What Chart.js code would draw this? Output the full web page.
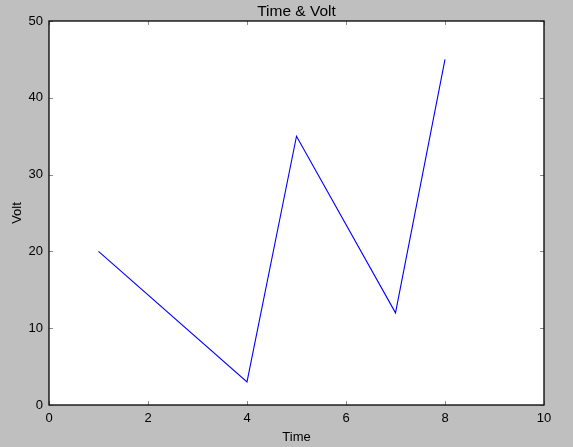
<!DOCTYPE html>
<html>
<head>
<meta charset="utf-8">
<title>Time & Volt</title>
<script src="https://cdn.jsdelivr.net/npm/chart.js@4/dist/chart.umd.min.js"></script>
<style>
  html, body { margin:0; padding:0; background:#bfbfbf; }
  canvas { display:block; }
</style>
</head>
<body>
<canvas id="chart" width="573" height="447"></canvas>
<script>
// datos
const timeValues = [1, 4, 5, 7, 8];
const voltValues = [20, 3, 35, 12, 45];
const xTicks = [0, 2, 4, 6, 8, 10];
const yTicks = [0, 10, 20, 30, 40, 50];

const FONT = "'Liberation Sans', Arial, Helvetica, sans-serif";

// fondo gris, area blanca, marco negro y ticks hacia dentro (estilo matplotlib)
const frame = {
  id: 'frame',
  beforeDraw(chart){
    const {ctx, chartArea:a} = chart;
    ctx.save();
    ctx.fillStyle = '#bfbfbf';
    ctx.fillRect(0, 0, chart.width, chart.height);
    ctx.fillStyle = '#ffffff';
    ctx.fillRect(a.left, a.top, a.right - a.left, a.bottom - a.top);
    ctx.restore();
  },
  afterDraw(chart){
    const {ctx, chartArea:a, scales} = chart;
    const len = 4;
    ctx.save();
    ctx.strokeStyle = '#8c8c8c';
    ctx.lineWidth = 1;
    ctx.beginPath();
    xTicks.forEach(v => {
      const px = Math.round(scales.x.getPixelForValue(v)) + 0.5;
      ctx.moveTo(px, a.bottom); ctx.lineTo(px, a.bottom - len);
      ctx.moveTo(px, a.top);    ctx.lineTo(px, a.top + len);
    });
    yTicks.forEach(v => {
      const py = Math.round(scales.y.getPixelForValue(v)) + 0.5;
      ctx.moveTo(a.left, py);  ctx.lineTo(a.left + len, py);
      ctx.moveTo(a.right, py); ctx.lineTo(a.right - len, py);
    });
    ctx.stroke();
    ctx.strokeStyle = '#000000';
    ctx.lineWidth = 1.3;
    ctx.strokeRect(a.left, a.top, a.right - a.left, a.bottom - a.top);
    ctx.restore();
  }
};

document.addEventListener('DOMContentLoaded', () => {
  const ctx = document.getElementById('chart');
  // eslint-disable-next-line no-undef
  new Chart(ctx, {
    type: 'line',
    data: {
      datasets: [{
        label: 'Volt',
        data: timeValues.map((t, i) => ({ x: t, y: voltValues[i] })),
        borderColor: '#0000ff',
        borderWidth: 1.1,
        pointRadius: 0,
        tension: 0,
        fill: false
      }]
    },
    options: {
      responsive: false,
      animation: false,
      devicePixelRatio: 1,
      layout: { padding: { left: 0, right: 29, top: 0, bottom: 0 } },
      plugins: {
        legend: { display: false },
        tooltip: { enabled: false },
        title: {
          display: true,
          fullSize: false, // centrado sobre el area del grafico
          text: 'Time & Volt',
          color: '#000',
          font: { family: FONT, size: 15.5, weight: 'normal', lineHeight: 1.2 },
          padding: { top: 2, bottom: 0.4 }
        }
      },
      scales: {
        x: {
          type: 'linear',
          min: 0, max: 10,
          afterBuildTicks: s => { s.ticks = xTicks.map(v => ({ value: v })); },
          afterFit: s => { s.height = 42; },
          grid: { display: false, drawTicks: false },
          border: { display: false },
          ticks: { color: '#000', padding: 6, maxRotation: 0, font: { family: FONT, size: 13 } },
          title: {
            display: true, text: 'Time', color: '#000',
            font: { family: FONT, size: 13 },
            padding: { top: 0, bottom: 2 }
          }
        },
        y: {
          type: 'linear',
          min: 0, max: 50,
          afterBuildTicks: s => { s.ticks = yTicks.map(v => ({ value: v })); },
          afterFit: s => { s.width = 49; },
          grid: { display: false, drawTicks: false },
          border: { display: false },
          ticks: { color: '#000', padding: 6, font: { family: FONT, size: 13 } },
          title: {
            display: true, text: 'Volt', color: '#000',
            font: { family: FONT, size: 13 },
            padding: { top: 10, bottom: 0 }
          }
        }
      }
    },
    plugins: [frame]
  });
});
</script>
</body>
</html>
